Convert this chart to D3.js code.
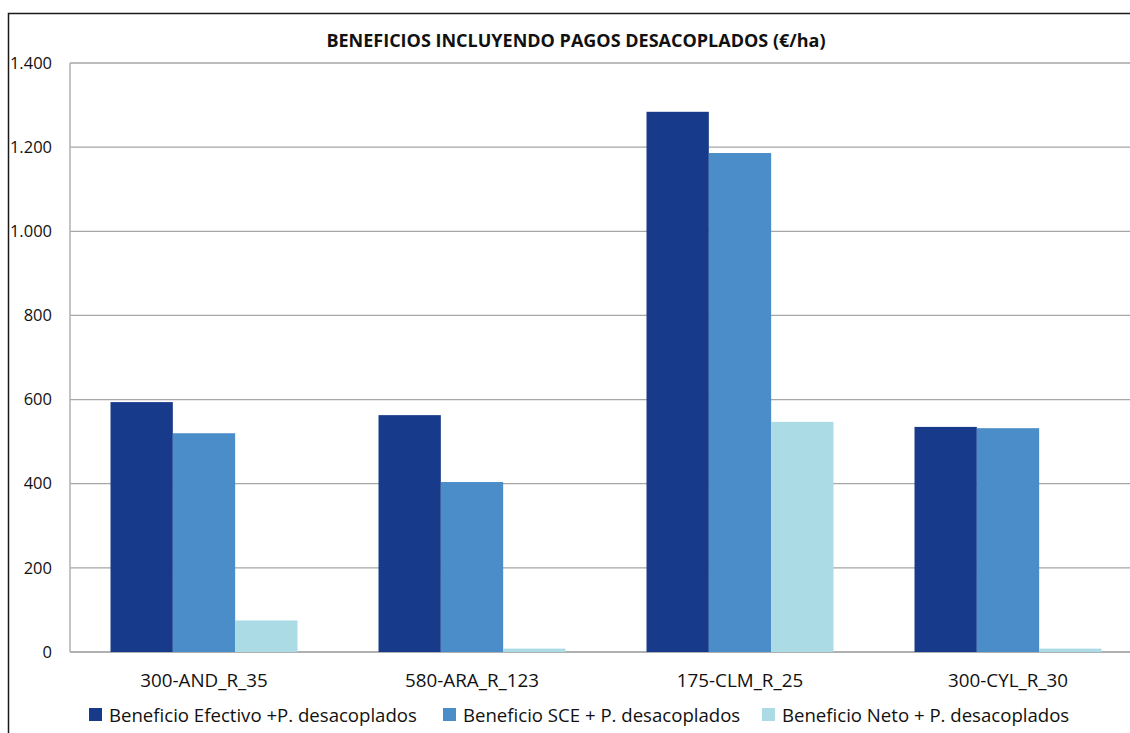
<!DOCTYPE html>
<html><head><meta charset="utf-8">
<script src="https://cdn.jsdelivr.net/npm/d3@7/dist/d3.min.js"></script>
<style>body{margin:0;background:#fff}svg{display:block}</style>
</head><body>
<svg id="c" width="1130" height="733"></svg>
<script>
const title = "BENEFICIOS INCLUYENDO PAGOS DESACOPLADOS (€/ha)";
const categories = ["300-AND_R_35", "580-ARA_R_123", "175-CLM_R_25", "300-CYL_R_30"];
const seriesNames = ["Beneficio Efectivo +P. desacoplados", "Beneficio SCE + P. desacoplados", "Beneficio Neto + P. desacoplados"];
const efectivo = [594, 563, 1284, 535];
const sce = [520, 404, 1186, 532];
const neto = [75, 8, 547, 8];
const yTicks = [0, 200, 400, 600, 800, 1000, 1200, 1400];
const colors = ["#173A8A", "#4B8DC8", "#ABDCE6"];

const seriesValues = [efectivo, sce, neto];
const svg = d3.select("#c");
const font = "'Open Sans', sans-serif";

// outer frame (extends beyond view)
svg.append("rect").attr("x", 8.5).attr("y", 13.5).attr("width", 1200).attr("height", 800)
  .attr("fill", "#fff").attr("stroke", "#1a1a1a").attr("stroke-width", 1.5);

const L = 70, R = 1142, T = 63, B = 652;
const x0 = d3.scaleBand().domain(categories).range([L, R]).paddingInner(0).paddingOuter(0);
const y = d3.scaleLinear().domain([0, 1400]).range([B, T]);
const groupW = x0.bandwidth() * 3 / (3 + 1.3);
const x1 = d3.scaleBand().domain(d3.range(3)).range([0, groupW]);

// gridlines
svg.append("g").selectAll("line").data(yTicks).join("line")
  .attr("x1", L).attr("x2", R).attr("y1", d => y(d)).attr("y2", d => y(d))
  .attr("stroke", d => d === 0 ? "#b0b0b0" : "#a6a6a6").attr("stroke-width", d => d === 0 ? 2 : 1.3);
// left axis line
svg.append("line").attr("x1", L).attr("x2", L).attr("y1", T).attr("y2", B)
  .attr("stroke", "#b0b0b0").attr("stroke-width", 1.5);

// y axis via d3
const fmt = d => d3.format(",")(d).replace(/,/g, ".");
const yAx = svg.append("g").attr("transform", `translate(${L},0)`)
  .call(d3.axisLeft(y).tickValues(yTicks).tickFormat(fmt).tickSize(0).tickPadding(18));
yAx.select(".domain").remove();
yAx.selectAll("text").attr("font-family", font).attr("font-size", 16.5).attr("fill", "#111");

// bars
const g = svg.append("g").selectAll("g").data(categories).join("g")
  .attr("transform", c => `translate(${x0(c) + (x0.bandwidth() - groupW) / 2},0)`);
g.selectAll("rect").data((c, i) => seriesValues.map((s, k) => ({k, v: s[i]}))).join("rect")
  .attr("x", d => x1(d.k)).attr("width", x1.bandwidth())
  .attr("y", d => y(d.v)).attr("height", d => B - y(d.v))
  .attr("fill", d => colors[d.k]);

// x axis labels
const xAx = svg.append("g").attr("transform", `translate(0,${B})`)
  .call(d3.axisBottom(x0).tickSize(0).tickPadding(0));
xAx.select(".domain").remove();
xAx.selectAll("text").attr("font-family", font).attr("font-size", 18.8).attr("fill", "#111")
  .attr("dy", null).attr("y", 35);

// title
svg.append("text").attr("x", 576).attr("y", 47).attr("text-anchor", "middle")
  .attr("font-family", font).attr("font-weight", "bold").attr("font-size", 18).attr("fill", "#111")
  .text(title);

// legend
const legX = [89, 443, 762];
const lg = svg.append("g").selectAll("g").data(seriesNames).join("g")
  .attr("transform", (d, i) => `translate(${legX[i]},708)`);
lg.append("rect").attr("width", 13).attr("height", 13).attr("fill", (d, i) => colors[i]);
lg.append("text").attr("x", 20).attr("y", 14).attr("font-family", font).attr("font-size", 18.6)
  .attr("fill", "#111").text(d => d);
</script>
</body></html>
